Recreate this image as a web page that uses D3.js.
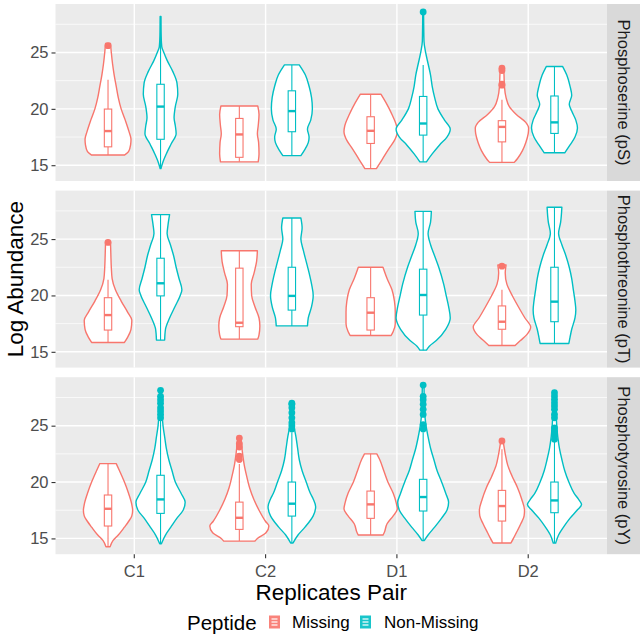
<!DOCTYPE html>
<html><head><meta charset="utf-8">
<script src="https://cdn.jsdelivr.net/npm/d3@7"></script>
<style>body{margin:0;background:#fff} svg{display:block}</style>
</head><body><svg id="c" width="643" height="638"></svg>
<script>
// ---------- data ----------
const facets = ["Phosphoserine (pS)", "Phosphothreonine (pT)", "Phosphotyrosine (pY)"];
const replicates = ["C1", "C2", "D1", "D2"];
const peptides = ["Missing", "Non-Missing"];
const yTicks = [15, 20, 25];
const yMinor = [17.5, 22.5, 27.5];

// violin outlines: [log abundance, relative density], order C1-M, C1-N, C2-M, C2-N, D1-M, D1-N, D2-M, D2-N
const profilesPS = [
  [[15.9,40],[16.2,50],[16.8,55],[17.3,56],[18,51],[19,42],[20,32],[21,25],[22,20],[23,15],[24,11],[25,8],[25.8,6]],
  [[14.7,1],[15.2,5],[16,14],[16.9,26],[17.8,38],[18.5,36],[19.2,33],[20.2,36],[21.3,42],[22.3,40],[23.3,30],[24.3,16],[25,8],[25.5,3],[26.5,1.5],[28.2,1]],
  [[15.3,46],[16,48],[17,47],[17.8,44],[18.5,46],[19.5,48],[20.25,45]],
  [[15.85,22],[16.3,30],[17,40],[17.5,42],[18.2,38],[19,46],[20,50],[21,48],[22,42],[23,33],[23.9,18]],
  [[14.7,14],[15.5,28],[16.5,45],[17.2,58],[18,65],[18.5,63],[19.5,52],[20.5,38],[21.3,25]],
  [[15.3,8],[16,22],[16.8,40],[17.5,58],[18.2,66],[19,52],[20,36],[21,28],[22,22],[23,18],[24,12],[25,6],[26,2],[28.6,1]],
  [[15.25,30],[15.6,38],[16.3,50],[17,58],[17.8,64],[18.3,65],[18.8,58],[19.5,35],[20.2,18],[21,10],[22,6],[23,5],[23.7,4]],
  [[16.1,25],[16.8,38],[17.5,50],[18.3,56],[19,52],[19.8,42],[20.4,36],[21.2,42],[22,38],[23,30],[23.75,20]]
];
const profilesPT = [
  [[15.83,40],[16.3,48],[17,56],[17.8,58],[18.5,48],[19.5,32],[20.5,18],[21.5,10],[22.5,8],[23.5,7],[24.8,6]],
  [[16.04,10],[17,12],[18,22],[19,35],[20,48],[20.5,52],[21.5,45],[22.5,38],[23.5,32],[24.5,24],[25.5,16],[26.2,18],[27.17,22]],
  [[16.13,45],[16.5,48],[17.3,50],[18,48],[19,38],[20,30],[21,29],[22,36],[23,42],[23.96,44]],
  [[17.3,38],[18,40],[19,48],[20,52],[21,48],[22,42],[23,35],[24,28],[25,22],[26,25],[26.87,22]],
  [[16.45,50],[16.8,55],[17.5,60],[18.5,60],[19.5,58],[20.5,52],[21.5,40],[22.5,30]],
  [[15.15,8],[15.5,15],[16,32],[17,55],[18,66],[19,62],[20,56],[21,50],[22.5,38],[23.5,28],[24.5,18],[25.5,12],[26.5,18],[27.46,20]],
  [[15.56,32],[16,45],[16.5,60],[17.2,70],[18,56],[19,40],[20,25],[21,12],[22,8],[22.7,10]],
  [[15.74,35],[16.3,38],[17,42],[18,50],[18.7,52],[19.5,50],[20.5,46],[21.5,42],[22.5,36],[23.5,28],[24.5,18],[25.5,10],[26.5,15],[27.82,18]]
];
const profilesPY = [
  [[14.26,5],[14.8,12],[15.3,25],[16,40],[16.5,50],[17,58],[17.5,60],[18,58],[19,50],[20,40],[21,28],[21.63,20]],
  [[14.53,2],[15.3,12],[16,25],[16.8,40],[17.5,55],[18.2,60],[19,50],[20,36],[21,28],[22,20],[23,14],[24,10],[25,6],[26,4],[28.1,2]],
  [[14.76,38],[15,44],[15.5,65],[16.1,72],[16.5,64],[17.5,48],[18.5,35],[19.5,25],[20.5,18],[21.5,12],[22.5,8],[23.9,4]],
  [[14.6,3],[15.3,15],[16,32],[17,52],[17.8,58],[18.5,52],[19,45],[20,35],[21,25],[22,18],[23,14],[24,10],[25,5],[27,2]],
  [[15.3,30],[15.5,33],[16.3,40],[17,55],[17.6,65],[18.2,62],[19,55],[20,42],[21,32],[22,22],[22.5,15]],
  [[14.82,3],[15.3,12],[16,28],[16.8,45],[17.5,58],[18.2,62],[19,55],[20,45],[21,34],[22,26],[23,18],[24,12],[25,7],[26,4],[28.6,2]],
  [[14.6,22],[15,28],[15.5,35],[16.3,46],[17,54],[17.5,55],[18.5,48],[19.5,38],[20.5,25],[21.5,14],[22.5,8],[23.6,3]],
  [[14.6,3],[15.3,10],[16,22],[16.8,38],[17.5,55],[18,66],[18.5,58],[19,48],[20,35],[21,25],[22,18],[23,12],[24,8],[26,4],[27.9,2]]
];

// box stats: [lower whisker, Q1, median, Q3, upper whisker]
const boxesPS = [
  [15.9,16.63,18.03,19.98,22.57],[14.7,17.3,20.2,22.18,28.2],
  [15.3,15.7,17.73,19.15,20.25],[15.85,17.97,19.8,21.6,23.9],
  [14.7,16.93,18.05,19.3,21.3],[15.3,17.67,18.7,21.1,23.9],
  [15.25,17.07,18.4,18.95,20.8],[16.1,17.82,18.8,21.14,23.75]
];
const boxesPT = [
  [15.83,16.93,18.26,19.8,21.4],[16.04,19.96,21.08,23.3,27.17],
  [16.13,17.23,17.58,22.42,23.96],[17.3,18.7,19.96,22.5,26.87],
  [16.45,16.93,18.47,19.8,22.5],[15.15,18.26,20.04,22.33,27.46],
  [15.56,17.0,17.67,19.07,20.5],[15.74,17.67,19.45,22.5,27.82]
];
const boxesPY = [
  [14.26,16.1,17.63,18.85,21.63],[14.53,17.22,18.46,20.6,25.5],
  [14.76,15.8,16.83,18.22,21.6],[14.6,16.98,18.08,20.0,24.4],
  [15.3,16.78,18.02,19.2,22.5],[14.82,17.43,18.67,20.24,24.4],
  [14.6,16.54,17.87,19.26,22.9],[14.6,17.28,18.37,20.0,23.6]
];

const outliersPS = [[25.6],[],[],[],[],[28.6],[23.6,23.4,22.2,22.1],[]];
const outliersPT = [[24.7],[],[],[],[],[],[22.6],[]];
const outliersPY = [
  [],[28.14,27.6,27.3,27.0,26.6,26.3,26.0,25.7],
  [23.9,23.4,23.1,22.3,22.0],[27.0,26.9,26.6,26.15,25.7,25.27,25.0,24.7],
  [],[28.6,27.6,27.3,26.9,26.45,26.0,25.1,24.7],
  [23.64],[27.93,27.63,27.34,27.04,26.75,26.45,26.0,25.7,24.8,24.5,24.2,23.8]
];

const profiles = [profilesPS, profilesPT, profilesPY];
const boxes = [boxesPS, boxesPT, boxesPY];
const outliers = [outliersPS, outliersPT, outliersPY];
const colors = ["#F8766D", "#00BFC4"];

// ---------- layout ----------
const FONT = "'Liberation Sans', Arial, sans-serif";
const svg = d3.select("#c");
const panelL = 55.5, panelR = 607, stripR = 640;
const panelH = 177, panelGap = 9.6, panelT0 = 4;

const xLin = d3.scaleLinear().domain([0.4, 4.6]).range([panelL, panelR]);
const catX = c => xLin(replicates.indexOf(c) + 1);
const unit = xLin(2) - xLin(1);
const dodge = d3.scaleOrdinal().domain(peptides).range([-0.2 * unit, 0.2 * unit]);
const dens = d3.scaleLinear().domain([0, 72]).range([0, 0.225 * unit]);
const boxHalf = 3.7;

facets.forEach((fname, fi) => {
  const top = panelT0 + fi * (panelH + panelGap);
  const y = d3.scaleLinear().domain([13.6, 29.3]).range([top + panelH, top]);
  const g = svg.append("g");

  g.append("rect").attr("x", panelL).attr("y", top).attr("width", panelR - panelL)
    .attr("height", panelH).attr("fill", "#ebebeb");
  yMinor.forEach(v => g.append("line").attr("x1", panelL).attr("x2", panelR)
    .attr("y1", y(v)).attr("y2", y(v)).attr("stroke", "#fff").attr("stroke-width", 0.7));
  yTicks.forEach(v => g.append("line").attr("x1", panelL).attr("x2", panelR)
    .attr("y1", y(v)).attr("y2", y(v)).attr("stroke", "#fff").attr("stroke-width", 1.4));
  replicates.forEach(c => g.append("line").attr("x1", catX(c)).attr("x2", catX(c))
    .attr("y1", top).attr("y2", top + panelH).attr("stroke", "#fff").attr("stroke-width", 1.4));

  // y axis
  const ax = d3.axisLeft(y).tickValues(yTicks).tickSize(4).tickPadding(3);
  const axG = g.append("g").attr("transform", `translate(${panelL},0)`).call(ax);
  axG.select(".domain").remove();
  axG.selectAll(".tick line").attr("stroke", "#333").attr("stroke-width", 1.1);
  axG.selectAll(".tick text").attr("font-family", FONT).attr("font-size", 16.5)
    .attr("fill", "#4d4d4d");

  // strip
  g.append("rect").attr("x", panelR).attr("y", top).attr("width", stripR - panelR)
    .attr("height", panelH).attr("fill", "#d9d9d9");
  g.append("text").attr("transform", `translate(${(panelR + stripR) / 2},${top + panelH / 2}) rotate(90)`)
    .attr("text-anchor", "middle").attr("dominant-baseline", "central")
    .attr("font-family", FONT).attr("font-size", 16.5).attr("fill", "#1a1a1a").text(fname);

  // violins
  replicates.forEach((c, ci) => peptides.forEach((p, pi) => {
    const k = ci * 2 + pi;
    const cx = catX(c) + dodge(p);
    const area = d3.area().curve(d3.curveMonotoneY)
      .y(d => y(d[0])).x0(d => cx - dens(d[1])).x1(d => cx + dens(d[1]));
    g.append("path").attr("d", area(profiles[fi][k])).attr("fill", "#fff")
      .attr("stroke", colors[pi]).attr("stroke-width", 1.4).attr("stroke-linejoin", "round");
  }));
  // boxplots
  replicates.forEach((c, ci) => peptides.forEach((p, pi) => {
    const k = ci * 2 + pi;
    const cx = catX(c) + dodge(p);
    const [lo, q1, md, q3, hi] = boxes[fi][k];
    const col = colors[pi];
    g.append("line").attr("x1", cx).attr("x2", cx).attr("y1", y(lo)).attr("y2", y(q1))
      .attr("stroke", col).attr("stroke-width", 1.1);
    g.append("line").attr("x1", cx).attr("x2", cx).attr("y1", y(q3)).attr("y2", y(hi))
      .attr("stroke", col).attr("stroke-width", 1.1);
    g.append("rect").attr("x", cx - boxHalf).attr("width", boxHalf * 2)
      .attr("y", y(q3)).attr("height", y(q1) - y(q3)).attr("fill", "#fff")
      .attr("stroke", col).attr("stroke-width", 1.1);
    g.append("line").attr("x1", cx - boxHalf).attr("x2", cx + boxHalf)
      .attr("y1", y(md)).attr("y2", y(md)).attr("stroke", col).attr("stroke-width", 2.4);
    outliers[fi][k].forEach(v => g.append("circle").attr("cx", cx).attr("cy", y(v))
      .attr("r", 3.4).attr("fill", col));
  }));

  if (fi === facets.length - 1) {
    const bottom = top + panelH;
    replicates.forEach(c => {
      g.append("line").attr("x1", catX(c)).attr("x2", catX(c)).attr("y1", bottom)
        .attr("y2", bottom + 4).attr("stroke", "#333").attr("stroke-width", 1.1);
      g.append("text").attr("x", catX(c)).attr("y", bottom + 17).attr("text-anchor", "middle")
        .attr("dominant-baseline", "central").attr("font-family", FONT).attr("font-size", 16.5)
        .attr("fill", "#4d4d4d").text(c);
    });
  }
});

// axis titles
svg.append("text").attr("x", (panelL + panelR) / 2).attr("y", 592).attr("text-anchor", "middle")
  .attr("dominant-baseline", "central").attr("font-family", FONT).attr("font-size", 22.5)
  .attr("fill", "#000").text("Replicates Pair");
const midY = panelT0 + (3 * panelH + 2 * panelGap) / 2;
svg.append("text").attr("transform", `translate(15,${midY}) rotate(-90)`).attr("text-anchor", "middle")
  .attr("dominant-baseline", "central").attr("font-family", FONT).attr("font-size", 22.5)
  .attr("fill", "#000").text("Log Abundance");

// legend
const lg = svg.append("g").attr("transform", "translate(0,622)");
lg.append("text").attr("x", 187).attr("y", 0).attr("dominant-baseline", "central")
  .attr("font-family", FONT).attr("font-size", 20.5).attr("fill", "#000").text("Peptide");
const keyX = [269, 360], labX = [292, 384];
peptides.forEach((p, i) => {
  const kg = lg.append("g").attr("transform", `translate(${keyX[i]},-6.5)`);
  kg.append("rect").attr("width", 11).attr("height", 13).attr("fill", colors[i]).attr("opacity", 0.9);
  [3.5, 6.5, 9.5].forEach(yy => kg.append("line").attr("x1", 2.5).attr("x2", 8.5)
    .attr("y1", yy).attr("y2", yy).attr("stroke", "#fff").attr("stroke-width", 1.2));
  lg.append("text").attr("x", labX[i]).attr("y", 0).attr("dominant-baseline", "central")
    .attr("font-family", FONT).attr("font-size", 17).attr("fill", "#000").text(p);
});
</script></body></html>
